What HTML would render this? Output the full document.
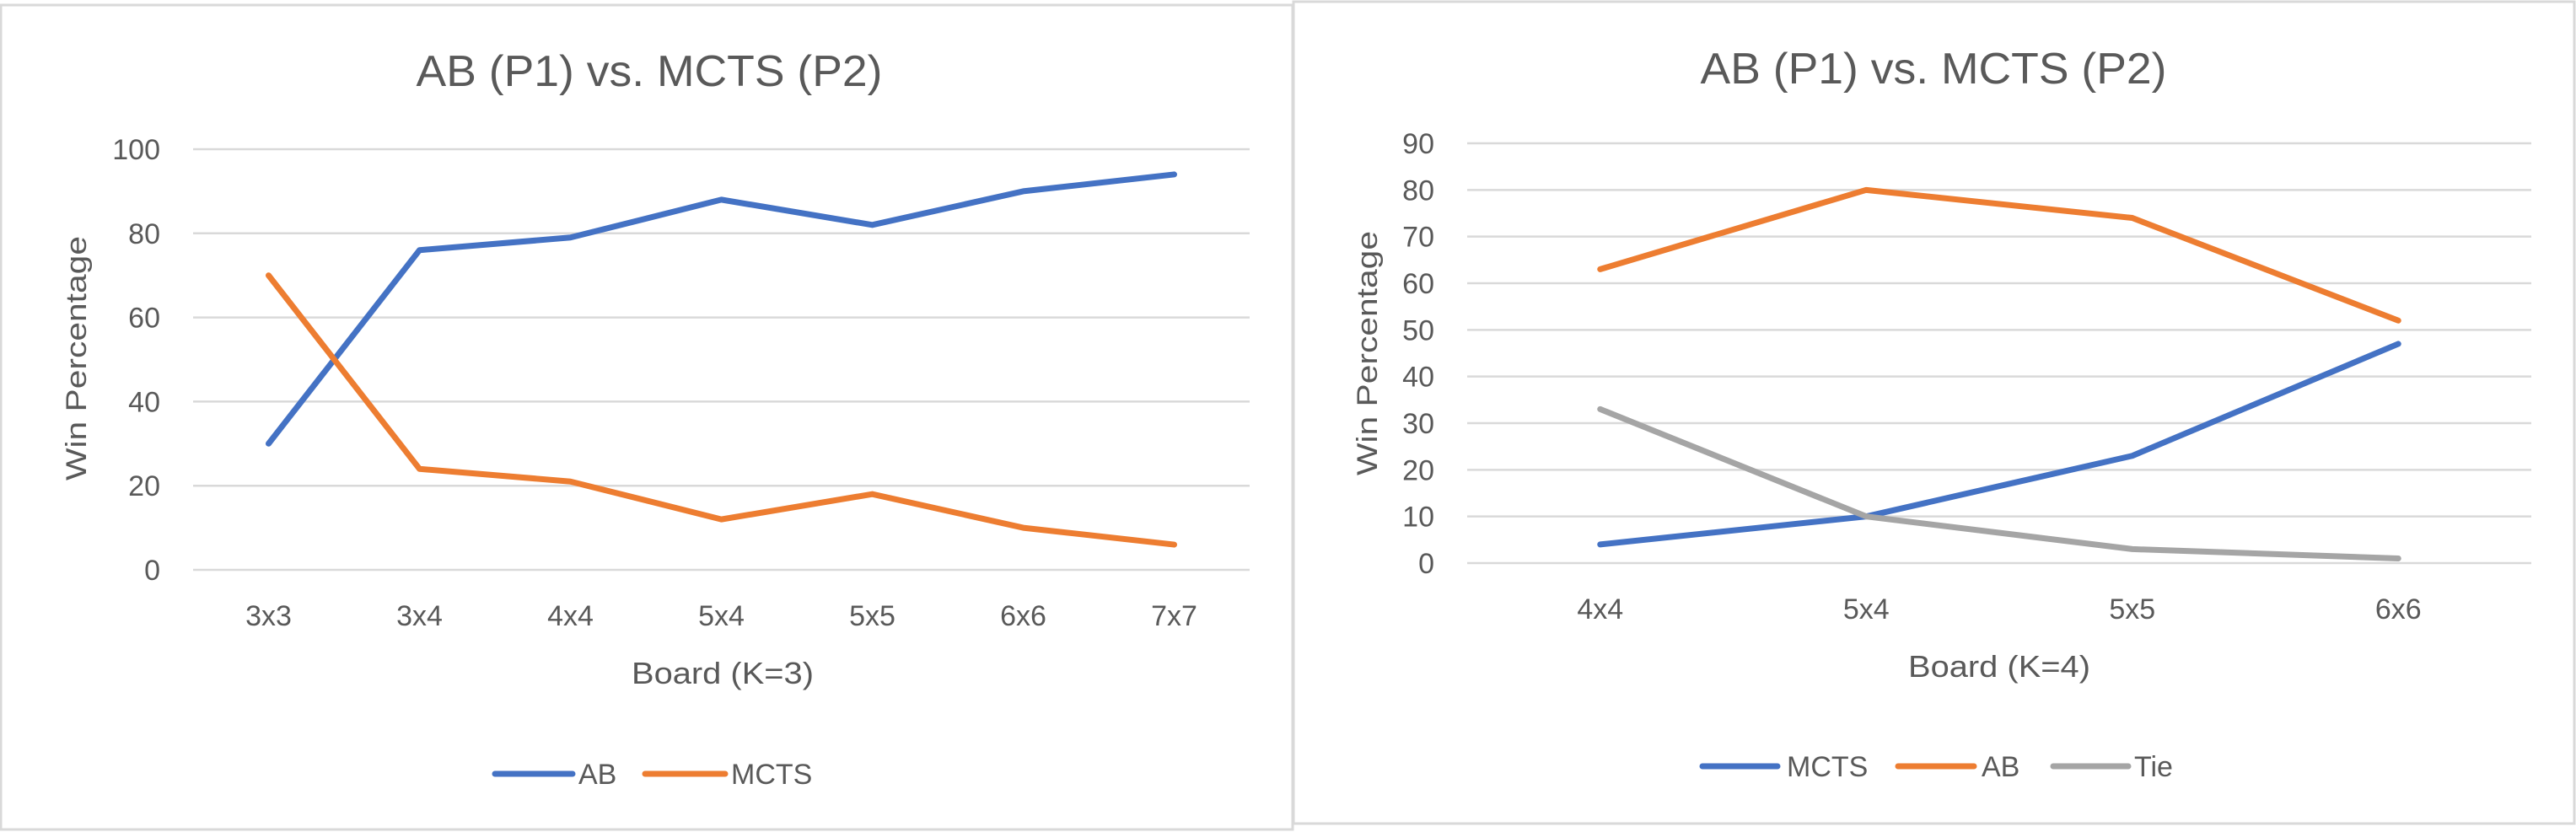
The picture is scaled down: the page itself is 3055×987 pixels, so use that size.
<!DOCTYPE html>
<html><head><meta charset="utf-8"><style>
html,body{margin:0;padding:0;background:#fff;}
svg{display:block;font-family:"Liberation Sans",sans-serif;}
</style></head><body>
<svg id="s" width="3055" height="987" viewBox="0 0 3055 987">
<rect x="1" y="6" width="1532" height="978" fill="#fff" stroke="#D9D9D9" stroke-width="3"/>
<rect x="1534" y="2" width="1519" height="975" fill="#fff" stroke="#D9D9D9" stroke-width="3"/>
</svg>
<script>
const leftCategories = ["3x3","3x4","4x4","5x4","5x5","6x6","7x7"];
const leftAB = [30,76,79,88,82,90,94];
const leftMCTS = [70,24,21,12,18,10,6];
const leftTicks = [0,20,40,60,80,100];
const rightCategories = ["4x4","5x4","5x5","6x6"];
const rightMCTS = [4,10,23,47];
const rightAB = [63,80,74,52];
const rightTie = [33,10,3,1];
const rightTicks = [0,10,20,30,40,50,60,70,80,90];

const NS="http://www.w3.org/2000/svg";
const svg=document.getElementById('s');
function mk(tag,attrs,parent,text){const e=document.createElementNS(NS,tag);for(const k in attrs)e.setAttribute(k,attrs[k]);if(text!==undefined)e.textContent=text;(parent||svg).appendChild(e);return e;}
const COL={blue:"#4472C4",orange:"#ED7D31",gray:"#A5A5A5"};

function chart(c){
  const g=mk('g',{});
  
  
  const maxV=c.ticks[c.ticks.length-1];
  const y=v=>c.y0-(c.y0-c.yTop)*v/maxV;
  const bw=(c.x1-c.x0)/c.cats.length;
  const x=i=>c.x0+bw*(i+0.5);
  c.ticks.forEach(t=>{
    const l=mk('line',{x1:c.x0,x2:c.x1,y1:y(t),y2:y(t),stroke:"#D9D9D9","stroke-width":2.5},g);
    
    
    const tx=mk('text',{x:c.tickX,y:y(t)+12,"text-anchor":"end","font-size":34,fill:"#595959"},g,String(t));
    
    
  });
  c.cats.forEach((cat,i)=>{
    const tx=mk('text',{x:x(i),y:c.catY+12,"text-anchor":"middle","font-size":34,fill:"#595959"},g,cat);
    
    
  });
  c.series.forEach(s=>{
    const p=mk('polyline',{points:s.data.map((v,i)=>x(i)+","+y(v)).join(" "),fill:"none",stroke:s.color,"stroke-width":7,"stroke-linejoin":"round","stroke-linecap":"round"},g);
    
    
    const ll=mk('line',{x1:s.lx0,x2:s.lx1,y1:c.legY,y2:c.legY,stroke:s.color,"stroke-width":7,"stroke-linecap":"round"},g);
    
    
    const lt=mk('text',{x:s.tx,y:c.legY+12,"font-size":34,fill:"#595959"},g,s.label);
    
    
  });
  const ti=mk('text',{x:c.titleX,y:c.titleY+20,"text-anchor":"middle","font-size":52,fill:"#595959",textLength:553,lengthAdjust:"spacingAndGlyphs"},g,"AB (P1) vs. MCTS (P2)");
  
  
  const xt=mk('text',{x:c.xtX,y:c.xtY+13,"text-anchor":"middle","font-size":36,fill:"#595959",textLength:216,lengthAdjust:"spacingAndGlyphs"},g,c.xTitle);
  
  
  const yt=mk('text',{x:0,y:0,"text-anchor":"middle","font-size":34,fill:"#595959",textLength:290,lengthAdjust:"spacingAndGlyphs",transform:`translate(${c.ytX+12},${c.ytY}) rotate(-90)`},g,"Win Percentage");
  
  
}

chart({name:"left-chart",cats:leftCategories,ticks:leftTicks,x0:229,x1:1482,y0:676,yTop:177,tickX:190,catY:730,
  titleX:770,titleY:82,xTitle:"Board (K=3)",xtX:857,xtY:798,ytX:90,ytY:425,legY:918,
  series:[{label:"AB",data:leftAB,color:COL.blue,lx0:587,lx1:679,tx:686},
          {label:"MCTS",data:leftMCTS,color:COL.orange,lx0:765,lx1:860,tx:867}]});
chart({name:"right-chart",cats:rightCategories,ticks:rightTicks,x0:1740,x1:3002,y0:668,yTop:170,tickX:1701,catY:722,
  titleX:2293,titleY:79,xTitle:"Board (K=4)",xtX:2371,xtY:790,ytX:1621,ytY:419,legY:909,
  series:[{label:"MCTS",data:rightMCTS,color:COL.blue,lx0:2019,lx1:2108,tx:2119},
          {label:"AB",data:rightAB,color:COL.orange,lx0:2251,lx1:2341,tx:2350},
          {label:"Tie",data:rightTie,color:COL.gray,lx0:2435,lx1:2524,tx:2531}]});
</script>
</body></html>
